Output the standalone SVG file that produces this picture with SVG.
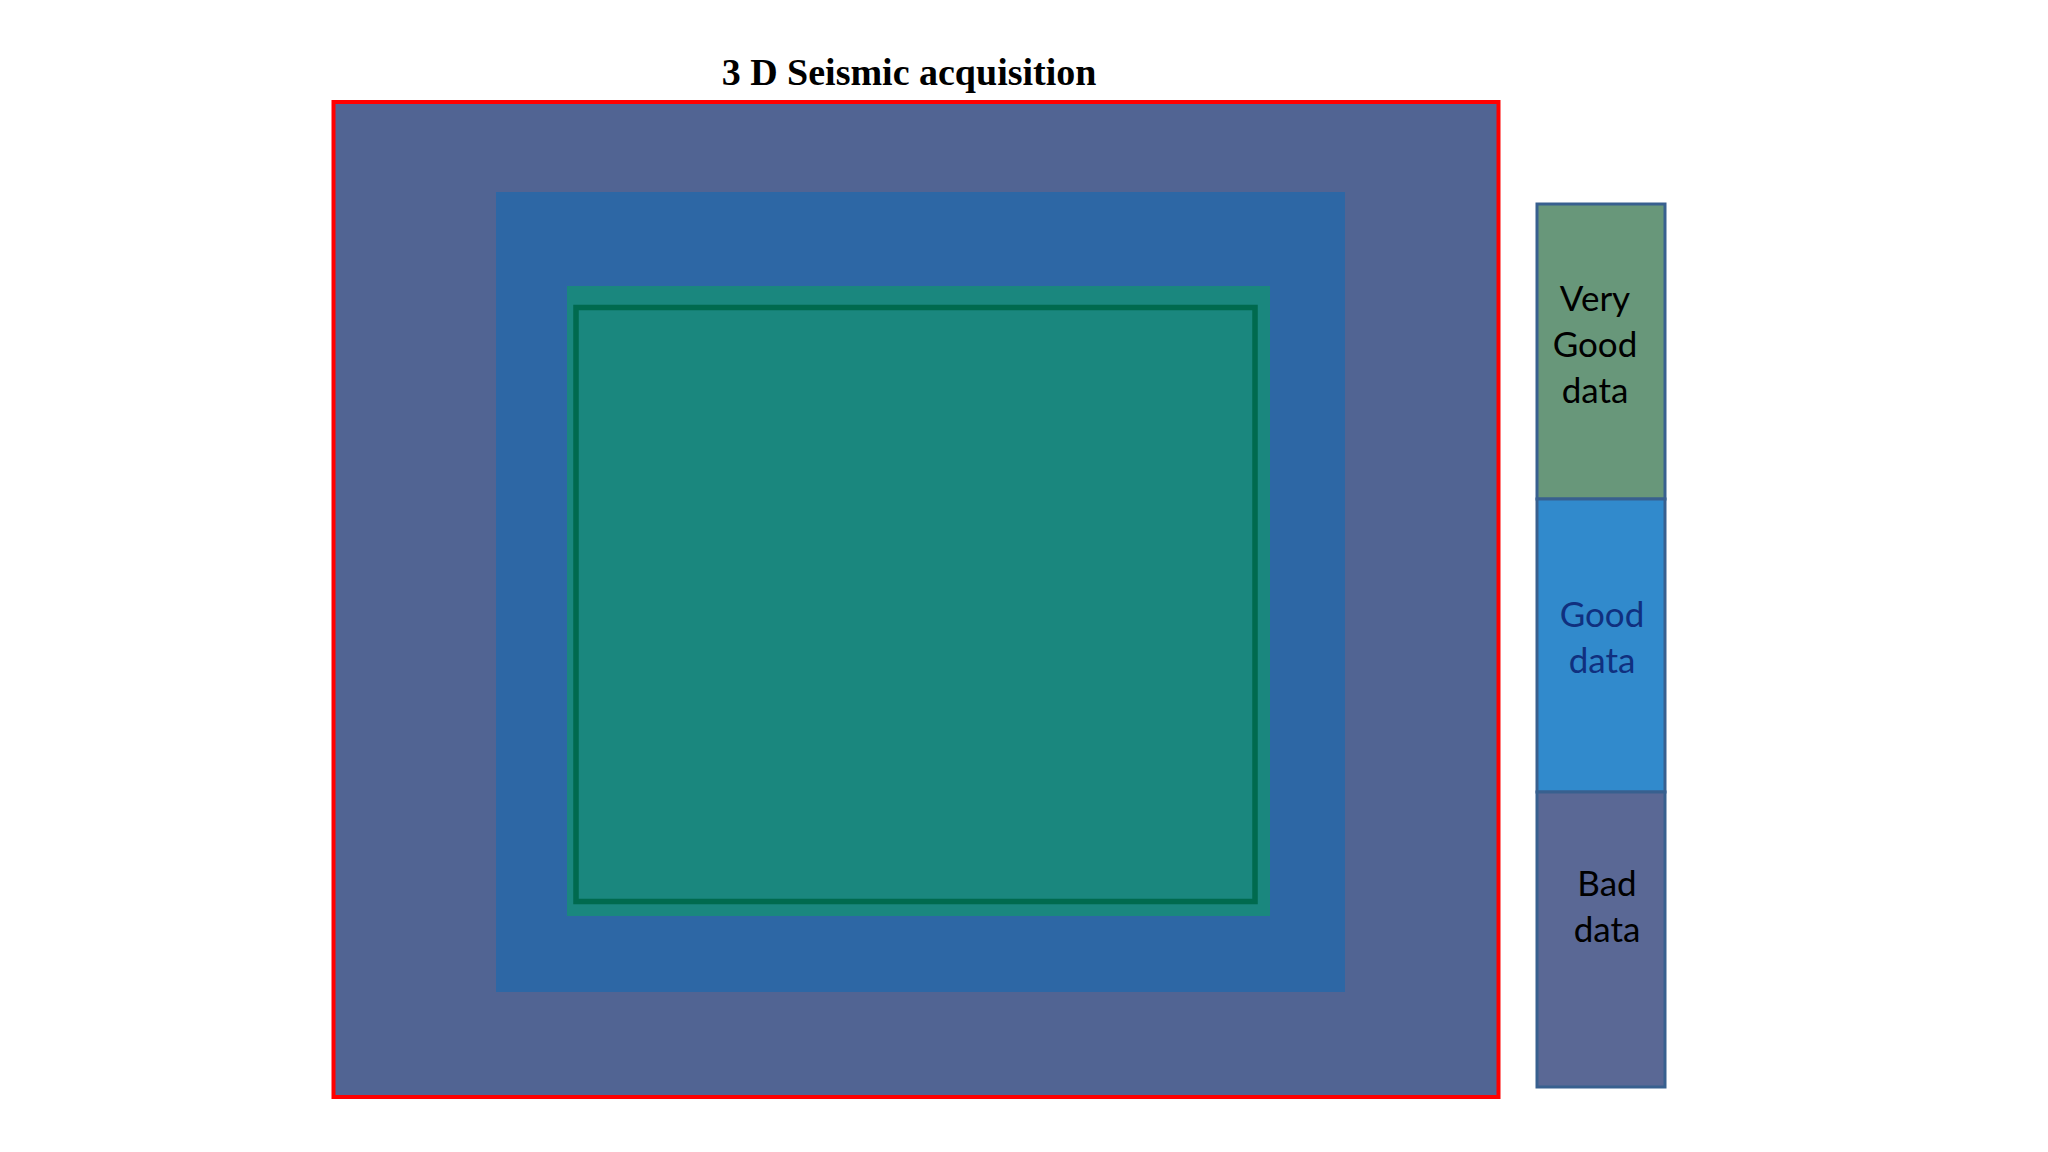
<svg xmlns="http://www.w3.org/2000/svg" width="2048" height="1152" viewBox="0 0 2048 1152">
  <style>
    .title { font-family: "Liberation Serif", "Times New Roman", serif; font-weight: bold; font-size: 38px; fill: #000; }
    .lbl { font-family: Lato, "Open Sans", sans-serif; font-size: 35px; text-anchor: middle; }
    .seg { stroke: #38608f; stroke-width: 3; }
  </style>
  <rect width="2048" height="1152" fill="#ffffff"/>
  <g id="title">
    <text class="title" x="909" y="85" text-anchor="middle">3 D Seismic acquisition</text>
  </g>
  <g id="survey-area">
    <rect id="outer-zone" x="333.5" y="102" width="1165" height="995" fill="#516493" stroke="#ff0000" stroke-width="4"/>
    <rect id="middle-zone" x="496" y="192" width="849" height="800" fill="#2d67a5"/>
    <rect id="inner-zone" x="567" y="286" width="703" height="630" fill="#1a877e"/>
    <rect id="inner-border" x="576" y="307.5" width="679" height="594" fill="none" stroke="#006a4e" stroke-width="5.5"/>
  </g>
  <g id="legend">
    <g id="legend-very-good">
      <rect class="seg" x="1537" y="204" width="128" height="295" fill="#68977a"/>
      <text class="lbl" fill="#000" x="1595" y="311">Very</text>
      <text class="lbl" fill="#000" x="1595" y="357">Good</text>
      <text class="lbl" fill="#000" x="1595" y="403">data</text>
    </g>
    <g id="legend-good">
      <rect class="seg" x="1537" y="499" width="128" height="293" fill="#318acc"/>
      <text class="lbl" fill="#10307f" x="1602" y="627">Good</text>
      <text class="lbl" fill="#10307f" x="1602" y="673">data</text>
    </g>
    <g id="legend-bad">
      <rect class="seg" x="1537" y="792" width="128" height="295" fill="#5a6895"/>
      <text class="lbl" fill="#000" x="1607" y="896">Bad</text>
      <text class="lbl" fill="#000" x="1607" y="942">data</text>
    </g>
  </g>
  <g id="connectors"/>
</svg>
